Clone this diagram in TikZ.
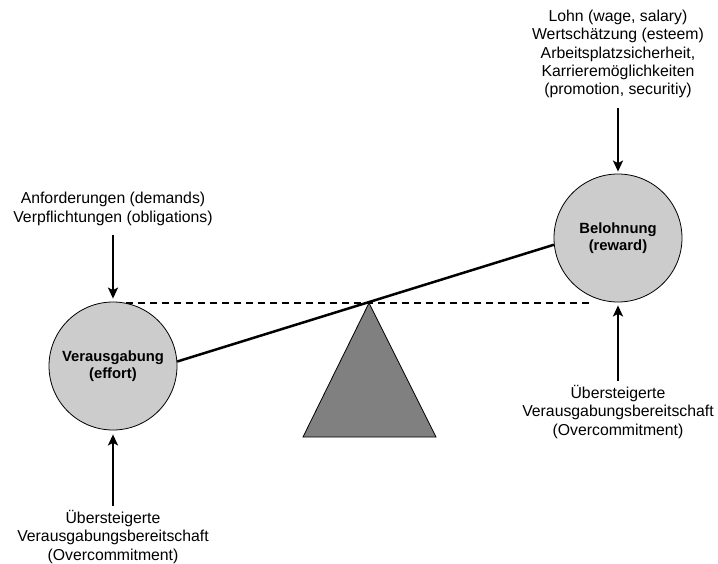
\documentclass[tikz,border=0pt]{standalone}
\usepackage{fontspec}
\setmainfont{Liberation Sans}
\usepackage{xcolor}
\usetikzlibrary{arrows.meta}

\definecolor{ballgray}{HTML}{CCCCCC}
\definecolor{pivotgray}{HTML}{808080}

\tikzset{
  ball/.style={circle,draw=black,line width=0.8pt,fill=ballgray,minimum size=128pt,inner sep=0pt,
    align=center,font=\bfseries\fontsize{14.8}{17}\selectfont},
  lbl/.style={align=center,inner sep=0pt,font=\fontsize{15.8}{18.4}\selectfont},
  push/.style={line width=2pt,-{Stealth[length=11pt,width=10pt,inset=2.5pt]}},
}

\begin{document}
\begin{tikzpicture}[x=10pt,y=-10pt]
\useasboundingbox (0,0) rectangle (71.8,56.3);

%\draw[step=1,gray,very thin] (0,0) grid (71.8,56.3); %background grid

\node[ball] (eff) at (11.3,36.6) {Verausgabung\\(effort)};
\node[ball] (rew) at (61.8,23.8) {Belohnung\\(reward)};

\node[lbl] (dem) at (11.3,20.9) {Anforderungen (demands)\\Verpflichtungen (obligations)};
\node[lbl] (pay) at (61.8,5.4) {Lohn (wage, salary)\\Wertschätzung (esteem)\\Arbeitsplatzsicherheit,\\Karrieremöglichkeiten\\(promotion, securitiy)};
\node[lbl] (ocl) at (11.3,53.7) {Übersteigerte\\Verausgabungsbereitschaft\\(Overcommitment)};
\node[lbl] (ocr) at (61.8,41.2) {Übersteigerte\\Verausgabungsbereitschaft\\(Overcommitment)};

\coordinate (apex) at (36.9,30.3);
\draw[fill=pivotgray,line width=0.8pt] (apex) -- (30.3,43.7) -- (43.6,43.7) -- cycle;

\draw[line width=2.2pt,dash pattern=on 7pt off 5pt] (eff.78) -- (eff.78 -| rew.243);
\draw[line width=2.5pt] (eff.4) -- (rew.186);

\draw[push,shorten <=9pt,shorten >=3pt] (dem.south) -- (eff.north);
\draw[push,shorten <=10pt,shorten >=2pt] (pay.south) -- (rew.north);
\draw[push,shorten <=4pt,shorten >=4pt] (ocl.north) -- (eff.south);
\draw[push,shorten <=4pt,shorten >=3pt] (ocr.north) -- (rew.south);
\end{tikzpicture}
\end{document}
